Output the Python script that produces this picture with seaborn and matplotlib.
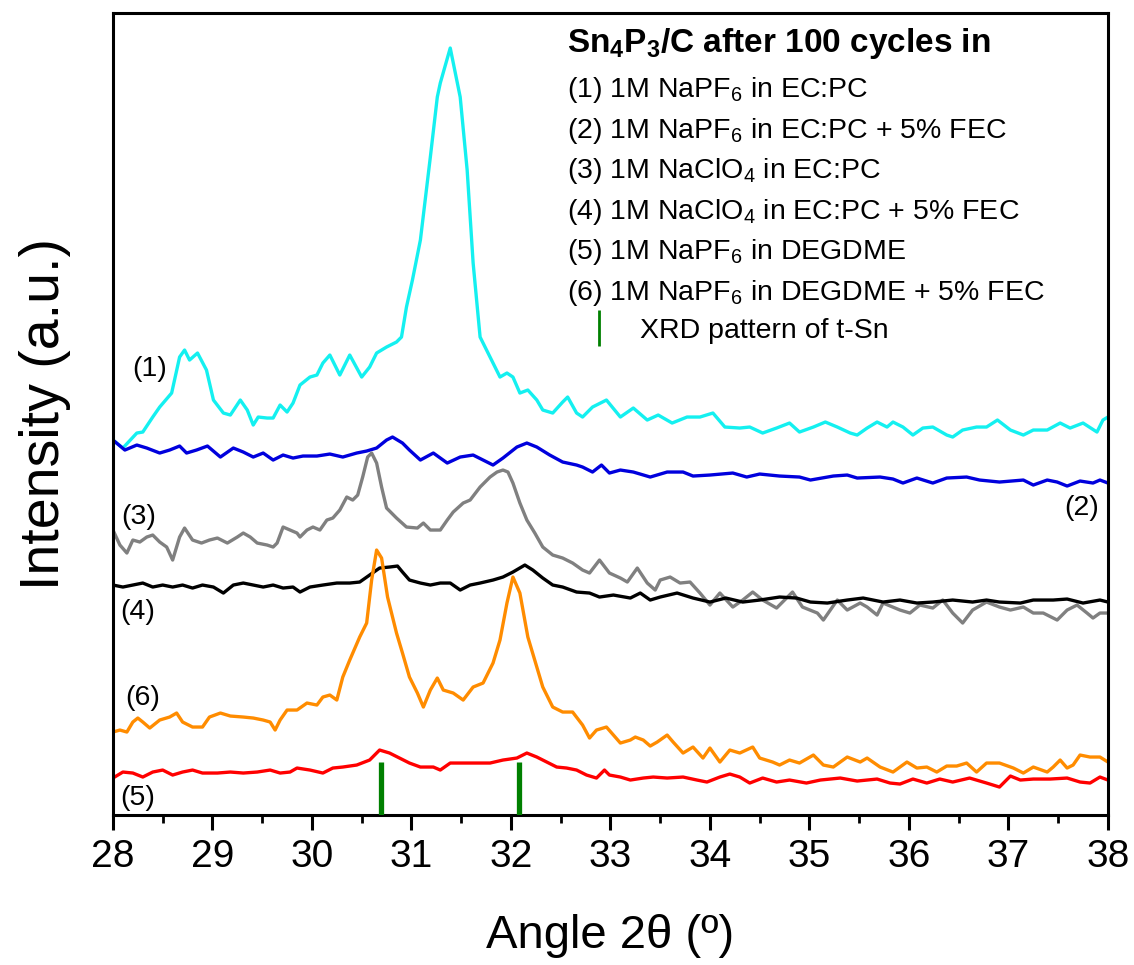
import numpy as np
import pandas as pd
import matplotlib
matplotlib.use("Agg")
import matplotlib.pyplot as plt
import seaborn as sns
from matplotlib.lines import Line2D
from matplotlib.ticker import MultipleLocator

# ---------------- data ----------------
a1 = [28.00, 28.10, 28.24, 28.30, 28.40, 28.47, 28.59, 28.67, 28.72, 28.77, 28.85, 28.94, 29.01, 29.11, 29.18, 29.28,
      29.35, 29.41, 29.46, 29.55, 29.61, 29.68, 29.75, 29.81, 29.88, 29.98, 30.05, 30.11, 30.18, 30.28, 30.38, 30.50,
      30.58, 30.65, 30.75, 30.85, 30.90, 30.95, 31.01, 31.09, 31.19, 31.26, 31.29, 31.39, 31.49, 31.56, 31.62, 31.69,
      31.79, 31.89, 31.96, 32.02, 32.09, 32.17, 32.26, 32.32, 32.42, 32.52, 32.57, 32.66, 32.72, 32.82, 32.96, 33.10,
      33.23, 33.37, 33.48, 33.62, 33.77, 33.90, 34.03, 34.15, 34.30, 34.40, 34.53, 34.67, 34.80, 34.90, 35.04, 35.16,
      35.28, 35.41, 35.48, 35.58, 35.68, 35.78, 35.84, 35.94, 36.04, 36.14, 36.24, 36.38, 36.44, 36.54, 36.68, 36.78,
      36.89, 37.02, 37.15, 37.25, 37.39, 37.52, 37.62, 37.75, 37.89, 37.95, 38.00]
i1 = [375, 367, 382, 383, 398, 408, 422, 458, 465, 455, 462, 445, 415, 402, 400, 415,
      405, 390, 398, 397, 397, 410, 403, 412, 430, 438, 440, 452, 460, 440, 460, 438,
      448, 462, 468, 473, 478, 508, 535, 575, 658, 718, 732, 767, 718, 645, 552, 478,
      458, 438, 442, 438, 422, 425, 415, 405, 402, 413, 418, 402, 398, 408, 415, 398,
      407, 395, 400, 392, 398, 398, 402, 388, 387, 388, 382, 387, 392, 383, 388, 393,
      388, 382, 380, 387, 393, 388, 393, 388, 380, 387, 388, 380, 378, 385, 388, 388,
      395, 385, 380, 385, 385, 392, 387, 392, 383, 395, 398]

a2 = [28.00, 28.12, 28.24, 28.34, 28.47, 28.57, 28.67, 28.74, 28.84, 28.95, 29.08, 29.21, 29.31, 29.41, 29.51, 29.61,
      29.71, 29.81, 29.91, 30.05, 30.18, 30.31, 30.45, 30.55, 30.65, 30.75, 30.81, 30.91, 30.98, 31.09, 31.22, 31.36,
      31.49, 31.62, 31.72, 31.82, 31.92, 32.06, 32.16, 32.26, 32.39, 32.52, 32.66, 32.72, 32.82, 32.91, 32.99, 33.10,
      33.23, 33.40, 33.57, 33.73, 33.83, 34.00, 34.23, 34.37, 34.50, 34.70, 34.90, 35.01, 35.24, 35.38, 35.48, 35.71,
      35.84, 35.94, 36.08, 36.24, 36.38, 36.58, 36.71, 36.91, 37.15, 37.25, 37.39, 37.49, 37.59, 37.72, 37.85, 37.92,
      38.00]
i2 = [375, 365, 370, 367, 362, 365, 369, 362, 365, 369, 358, 367, 363, 358, 362, 355,
      360, 357, 359, 359, 361, 358, 362, 364, 367, 375, 378, 372, 365, 355, 362, 352,
      358, 360, 355, 350, 357, 368, 372, 368, 360, 353, 350, 348, 343, 350, 342, 345,
      343, 338, 343, 343, 339, 340, 342, 338, 341, 339, 338, 335, 339, 340, 337, 338,
      336, 332, 337, 332, 337, 338, 335, 333, 335, 330, 335, 333, 329, 334, 332, 335,
      332]

a3 = [28.00, 28.07, 28.14, 28.20, 28.27, 28.34, 28.40, 28.47, 28.54, 28.60, 28.67, 28.72, 28.80, 28.89, 28.97, 29.05,
      29.15, 29.25, 29.31, 29.38, 29.45, 29.55, 29.61, 29.65, 29.71, 29.78, 29.85, 29.88, 29.95, 30.01, 30.08, 30.15,
      30.21, 30.28, 30.35, 30.41, 30.46, 30.51, 30.56, 30.60, 30.65, 30.70, 30.75, 30.85, 30.95, 31.06, 31.12, 31.19,
      31.29, 31.36, 31.42, 31.52, 31.59, 31.69, 31.79, 31.86, 31.92, 31.97, 32.02, 32.09, 32.16, 32.24, 32.32, 32.42,
      32.52, 32.62, 32.72, 32.79, 32.89, 32.99, 33.10, 33.17, 33.27, 33.37, 33.45, 33.50, 33.60, 33.70, 33.80, 33.90,
      34.00, 34.10, 34.23, 34.33, 34.43, 34.53, 34.67, 34.83, 34.93, 35.08, 35.14, 35.28, 35.38, 35.51, 35.58, 35.68,
      35.74, 35.91, 36.01, 36.11, 36.24, 36.34, 36.44, 36.54, 36.64, 36.78, 36.91, 37.02, 37.15, 37.25, 37.35, 37.49,
      37.59, 37.69, 37.79, 37.85, 37.92, 38.00]
i3 = [285, 270, 262, 275, 273, 278, 280, 273, 268, 255, 278, 287, 275, 272, 275, 277,
      272, 278, 282, 278, 272, 270, 268, 272, 288, 285, 282, 278, 285, 288, 285, 295,
      297, 305, 318, 315, 320, 338, 358, 362, 352, 328, 307, 297, 288, 287, 292, 285,
      285, 295, 303, 312, 315, 328, 338, 343, 345, 343, 332, 312, 295, 282, 268, 260,
      257, 252, 245, 242, 255, 242, 237, 233, 247, 232, 225, 235, 238, 232, 233, 222,
      210, 222, 208, 215, 223, 215, 207, 223, 208, 202, 195, 215, 205, 212, 208, 200,
      212, 205, 202, 210, 207, 215, 202, 192, 205, 213, 208, 205, 208, 202, 202, 195,
      205, 210, 202, 197, 202, 202]

a4 = [28.00, 28.10, 28.20, 28.30, 28.40, 28.50, 28.60, 28.70, 28.80, 28.90, 29.01, 29.11, 29.21, 29.31, 29.41, 29.51,
      29.61, 29.71, 29.81, 29.88, 29.98, 30.11, 30.25, 30.38, 30.48, 30.58, 30.68, 30.78, 30.86, 30.91, 30.98, 31.09,
      31.19, 31.29, 31.39, 31.49, 31.59, 31.69, 31.82, 31.92, 32.02, 32.14, 32.22, 32.32, 32.42, 32.52, 32.66, 32.79,
      32.89, 33.03, 33.20, 33.30, 33.40, 33.50, 33.67, 33.83, 34.00, 34.16, 34.33, 34.50, 34.70, 34.87, 35.01, 35.18,
      35.38, 35.54, 35.74, 35.91, 36.08, 36.24, 36.44, 36.64, 36.78, 36.91, 37.12, 37.25, 37.45, 37.59, 37.75, 37.92,
      38.00]
i4 = [230, 228, 230, 232, 228, 230, 228, 230, 227, 230, 228, 222, 230, 232, 230, 228,
      230, 227, 228, 223, 228, 230, 232, 232, 233, 240, 247, 248, 249, 243, 235, 232,
      230, 232, 232, 225, 230, 232, 235, 238, 243, 250, 245, 237, 230, 228, 223, 222,
      218, 220, 217, 222, 215, 218, 222, 217, 213, 217, 213, 215, 218, 217, 213, 212,
      215, 217, 213, 215, 212, 213, 215, 213, 215, 213, 212, 215, 215, 216, 212, 215,
      213]

a5 = [28.00, 28.10, 28.20, 28.30, 28.40, 28.50, 28.60, 28.70, 28.80, 28.90, 29.05, 29.18, 29.31, 29.45, 29.58, 29.68,
      29.78, 29.85, 29.98, 30.11, 30.21, 30.31, 30.45, 30.58, 30.68, 30.78, 30.88, 30.98, 31.09, 31.22, 31.29, 31.39,
      31.52, 31.66, 31.79, 31.92, 32.06, 32.16, 32.26, 32.36, 32.46, 32.56, 32.66, 32.76, 32.86, 32.94, 32.99, 33.10,
      33.20, 33.33, 33.43, 33.57, 33.73, 33.87, 33.97, 34.10, 34.20, 34.30, 34.40, 34.53, 34.67, 34.80, 34.97, 35.11,
      35.31, 35.48, 35.68, 35.81, 35.91, 36.04, 36.18, 36.31, 36.44, 36.61, 36.78, 36.91, 37.02, 37.12, 37.25, 37.42,
      37.59, 37.72, 37.82, 37.92, 38.00]
i5 = [37, 43, 42, 38, 43, 45, 40, 43, 45, 42, 42, 43, 42, 43, 45, 42,
      43, 47, 45, 42, 47, 48, 50, 55, 65, 62, 57, 52, 48, 48, 45, 52,
      52, 52, 52, 55, 57, 62, 58, 53, 48, 47, 45, 40, 37, 45, 40, 38,
      35, 37, 38, 37, 38, 35, 33, 38, 41, 38, 32, 37, 33, 35, 32, 35,
      37, 34, 36, 32, 31, 36, 32, 36, 33, 37, 32, 28, 39, 35, 36, 36,
      37, 33, 32, 38, 35]

a6 = [28.00, 28.07, 28.14, 28.20, 28.25, 28.30, 28.37, 28.47, 28.57, 28.64, 28.70, 28.80, 28.90, 28.97, 29.08, 29.18,
      29.31, 29.41, 29.51, 29.58, 29.63, 29.68, 29.75, 29.85, 29.95, 30.05, 30.11, 30.18, 30.25, 30.31, 30.38, 30.48,
      30.55, 30.60, 30.65, 30.70, 30.76, 30.85, 30.91, 30.98, 31.06, 31.12, 31.19, 31.26, 31.32, 31.42, 31.52, 31.62,
      31.72, 31.82, 31.89, 31.96, 32.02, 32.09, 32.17, 32.26, 32.32, 32.42, 32.52, 32.62, 32.72, 32.79, 32.86, 32.96,
      33.03, 33.10, 33.20, 33.25, 33.33, 33.40, 33.47, 33.57, 33.63, 33.73, 33.83, 33.93, 34.00, 34.10, 34.20, 34.30,
      34.43, 34.50, 34.63, 34.70, 34.80, 34.90, 35.04, 35.14, 35.24, 35.38, 35.51, 35.58, 35.71, 35.84, 35.98, 36.08,
      36.18, 36.28, 36.38, 36.48, 36.58, 36.68, 36.78, 36.91, 37.05, 37.15, 37.25, 37.39, 37.45, 37.52, 37.59, 37.65,
      37.72, 37.82, 37.92, 38.00]
i6 = [83, 85, 83, 93, 97, 93, 87, 95, 98, 102, 93, 88, 88, 98, 102, 99,
      98, 97, 95, 93, 85, 95, 105, 105, 112, 110, 118, 120, 115, 138, 155, 178,
      192, 235, 265, 257, 218, 182, 162, 138, 122, 108, 125, 137, 125, 122, 115, 128,
      132, 152, 175, 212, 238, 222, 178, 148, 128, 108, 103, 103, 90, 77, 85, 88,
      80, 72, 75, 78, 75, 69, 73, 80, 73, 62, 68, 57, 67, 53, 65, 62,
      68, 57, 53, 50, 55, 52, 60, 50, 48, 58, 53, 57, 48, 43, 53, 47,
      48, 43, 49, 49, 52, 43, 52, 52, 47, 42, 48, 43, 48, 55, 47, 50,
      60, 58, 58, 53]

tsn_angles = [30.69, 32.08]
tsn_heights = [53, 53]

curve_ids = ["(1)", "(2)", "(3)", "(4)", "(5)", "(6)"]
curve_colors = ["#14F0F0", "#0000DD", "#808080", "#000000", "#FF0000", "#FF8C00"]
label_pos_angle = [28.37, 37.74, 28.26, 28.25, 28.25, 28.30]
label_pos_int = [446, 307, 298, 203, 17, 117]

legend_title = "Sn$_4$P$_3$/C after 100 cycles in"
legend_items = [
    "(1) 1M NaPF$_6$ in EC:PC",
    "(2) 1M NaPF$_6$ in EC:PC + 5% FEC",
    "(3) 1M NaClO$_4$ in EC:PC",
    "(4) 1M NaClO$_4$ in EC:PC + 5% FEC",
    "(5) 1M NaPF$_6$ in DEGDME",
    "(6) 1M NaPF$_6$ in DEGDME + 5% FEC",
]
tsn_label = "XRD pattern of t-Sn"

# ---------------- build long table ----------------
angles = [a1, a2, a3, a4, a5, a6]
ints = [i1, i2, i3, i4, i5, i6]
frames = []
for cid, a, y in zip(curve_ids, angles, ints):
    frames.append(pd.DataFrame({"angle": a, "intensity": y, "curve": cid}))
df = pd.concat(frames, ignore_index=True)

# ---------------- style ----------------
sns.set_theme(style="white")
plt.rcParams["font.family"] = ["Liberation Sans", "DejaVu Sans"]
plt.rcParams["mathtext.default"] = "regular"
plt.rcParams["text.color"] = "black"
plt.rcParams["axes.labelcolor"] = "black"
plt.rcParams["xtick.color"] = "black"
plt.rcParams["xtick.labelcolor"] = "black"

fig = plt.figure(figsize=(11.34, 9.65), dpi=100)
ax = fig.add_axes([0.0996, 0.1554, 0.8774, 0.8311])

sns.lineplot(data=df, x="angle", y="intensity", hue="curve", hue_order=curve_ids,
             palette=dict(zip(curve_ids, curve_colors)), estimator=None, sort=False,
             linewidth=2.4, legend=False, ax=ax)

ax.vlines(tsn_angles, 0, tsn_heights, colors="#008000", linewidth=3.8, zorder=5)

for cid, xa, yi in zip(curve_ids, label_pos_angle, label_pos_int):
    ax.text(xa, yi, cid, fontsize=20.5, ha="center", va="center", color="black")

# legend-like text block
ax.text(0.456, 0.962, legend_title, transform=ax.transAxes, fontsize=24,
        fontweight="bold", ha="left", va="center")
for k, item in enumerate(legend_items):
    ax.text(0.456, 0.904 - k * 0.0505, item, transform=ax.transAxes, fontsize=20.5,
            ha="left", va="center")
ax.legend(handles=[Line2D([], [], color="#008000", marker="|", linestyle="None",
                          markersize=26, markeredgewidth=2.0)],
          labels=[tsn_label], loc="center left", bbox_to_anchor=(0.448, 0.603),
          frameon=False, fontsize=20.5, handletextpad=0.45, borderaxespad=0)

# axes
ax.set_xlim(28, 38)
ax.set_ylim(0, 802)
ax.set_yticks([])
ax.xaxis.set_major_locator(MultipleLocator(1))
ax.xaxis.set_minor_locator(MultipleLocator(0.5))
ax.tick_params(axis="x", which="major", direction="out", length=11, width=2.2,
               labelsize=28, pad=6, bottom=True, color="black", labelcolor="black")
ax.tick_params(axis="x", which="minor", direction="out", length=6, width=2.0,
               bottom=True, color="black")
for s in ax.spines.values():
    s.set_linewidth(2.2)
    s.set_color("black")

ax.set_xlabel("Angle 2θ (º)", fontsize=34, labelpad=28)
ax.set_ylabel("Intensity (a.u.)", fontsize=40, labelpad=30)

fig.savefig("out.png", dpi=100, facecolor="white")
